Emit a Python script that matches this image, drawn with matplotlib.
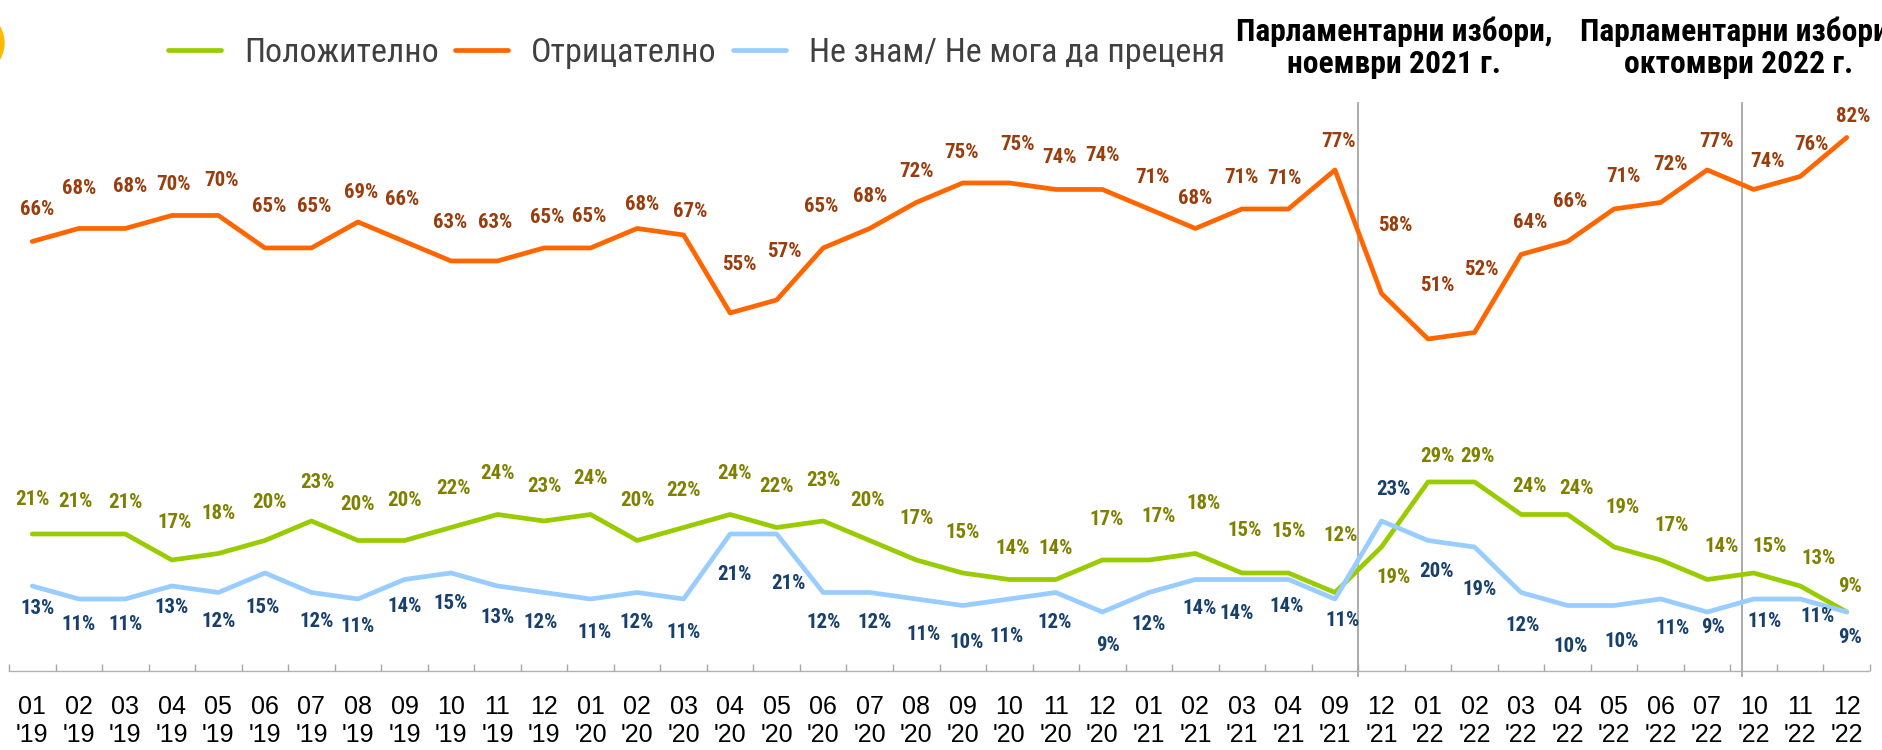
import numpy as np
import matplotlib
matplotlib.use("Agg")
import matplotlib.pyplot as plt
import matplotlib.font_manager as fm
import matplotlib.transforms as mtransforms
from matplotlib.patches import Ellipse
from matplotlib.lines import Line2D

# ---------------- data ----------------
months = ["01", "02", "03", "04", "05", "06", "07", "08", "09", "10", "11", "12",
          "01", "02", "03", "04", "05", "06", "07", "08", "09", "10", "11", "12",
          "01", "02", "03", "04", "09", "12",
          "01", "02", "03", "04", "05", "06", "07", "10", "11", "12"]
years = ["'19"] * 12 + ["'20"] * 12 + ["'21"] * 6 + ["'22"] * 10

positive = [21, 21, 21, 17, 18, 20, 23, 20, 20, 22, 24, 23,
            24, 20, 22, 24, 22, 23, 20, 17, 15, 14, 14, 17,
            17, 18, 15, 15, 12, 19,
            29, 29, 24, 24, 19, 17, 14, 15, 13, 9]
negative = [66, 68, 68, 70, 70, 65, 65, 69, 66, 63, 63, 65,
            65, 68, 67, 55, 57, 65, 68, 72, 75, 75, 74, 74,
            71, 68, 71, 71, 77, 58,
            51, 52, 64, 66, 71, 72, 77, 74, 76, 82]
dontknow = [13, 11, 11, 13, 12, 15, 12, 11, 14, 15, 13, 12,
            11, 12, 11, 21, 21, 12, 12, 11, 10, 11, 12, 9,
            12, 14, 14, 14, 11, 23,
            20, 19, 12, 10, 10, 11, 9, 11, 11, 9]

series_names = ["Положително", "Отрицателно", "Не знам/ Не мога да преценя"]
event_texts = ["Парламентарни избори,\nноември 2021 г.",
               "Парламентарни избори,\nоктомври 2022 г."]
event_lines = [28.5, 36.75]
event_text_x = [29.27, 36.68]

# label offsets (pixels, +dy = down)
neg_dx = [5, 0, 5, 2, 3, 4, 3, 3, -2, -1, -2, 3, -1, 5, 7,
          9, 8, -2, 0, 0, -1, 8, 4, 0, 4, 0,
          0, -4, 4, 14, 9, 7, 9, 3, 9, 10, 9, 14, 11, 6]
neg_dy = [-32, -40, -42, -31, -35, -41, -41, -29, -42, -38, -38, -30, -31, -24, -23,
          -48, -48, -41, -32, -31, -30, -38, -32, -34, -31, -30,
          -31, -30, -28, -68, -53, -63, -32, -40, -32, -38, -28, -28, -32, -21]
pos_dx = [0, -3, 0, 3, 0, 5, 6, 0, 0, 3, 0, 0,
          0, 0, 0, 4, 0, 0, -2, 0, 0, 3, 0, 4,
          10, 8, 3, 0, 6, 12,
          9, 3, 8, 9, 8, 11, 14, 16, 18, 3]
pos_dy = [-34, -32, -31, -37, -40, -38, -38, -36, -40, -39, -41, -34,
          -36, -40, -37, -41, -41, -40, -40, -41, -40, -31, -31, -40,
          -43, -50, -42, -41, -57, 31,
          -25, -25, -28, -26, -39, -34, -33, -26, -27, -25]
dk_dx = [5, 0, 0, 0, 0, -2, 5, 0, 0, 0, 0, -3,
         4, 0, 0, 4, 12, 0, 5, 7, 4, -3, -1, 6,
         0, 4, -5, -2, 8, 12,
         8, 5, 2, 3, 8, 12, 6, 11, 17, 3]
dk_dy = [23, 26, 26, 22, 29, 35, 29, 28, 27, 31, 32, 30,
         34, 30, 34, 41, 50, 30, 30, 36, 37, 38, 30, 34,
         32, 29, 34, 27, 22, -31,
         31, 43, 33, 41, 36, 30, 16, 23, 18, 26]

# ---------------- fonts ----------------
_avail = {f.name for f in fm.fontManager.ttflist}


def pick(cands, default):
    for c in cands:
        if c in _avail:
            return c
    return default


COND = pick(["Roboto Condensed", "Liberation Sans Narrow", "Archivo Narrow", "Asap Condensed"], "Roboto")
TICKF = pick(["Liberation Sans", "Arial"], "DejaVu Sans")

# ---------------- figure ----------------
W, H = 1882, 750
fig = plt.figure(figsize=(W / 100, H / 100), dpi=100)
ax = fig.add_axes([9 / W, (H - 670.5) / H, 1861 / W, 567.5 / H])

x = np.arange(len(months))
c_pos, c_neg, c_dk = "#99CC00", "#FF6600", "#99CCFF"
t_pos, t_neg, t_dk = "#808000", "#993D0D", "#17406D"
lw = 3.4
ax.plot(x, positive, color=c_pos, lw=lw, solid_joinstyle="round", solid_capstyle="round", zorder=3)
ax.plot(x, negative, color=c_neg, lw=lw, solid_joinstyle="round", solid_capstyle="round", zorder=3)
ax.plot(x, dontknow, color=c_dk, lw=lw, solid_joinstyle="round", solid_capstyle="round", zorder=3)

k = 0.72
for vals, dxs, dys, col in [(positive, pos_dx, pos_dy, t_pos),
                            (negative, neg_dx, neg_dy, t_neg),
                            (dontknow, dk_dx, dk_dy, t_dk)]:
    for i, v in enumerate(vals):
        ax.annotate(f"{v}%", (i, v), xytext=(dxs[i] * k, -dys[i] * k), textcoords="offset points",
                    ha="center", va="center", fontsize=15, fontweight="bold", color=col,
                    family=COND, zorder=4)

ax.set_xlim(-0.5, len(months) - 0.5)
ax.set_ylim(0, 87.3)
for s in ["top", "left", "right"]:
    ax.spines[s].set_visible(False)
ax.spines["bottom"].set_color("#B0B0B0")
ax.spines["bottom"].set_linestyle((0, (1, 1)))
ax.spines["bottom"].set_linewidth(1.0)
ax.set_yticks([])
ax.set_xticks(x)
ax.set_xticklabels([f"{m}\n{y}" for m, y in zip(months, years)], family=TICKF, fontsize=18)
ax.set_xticks(np.arange(len(months) + 1) - 0.5, minor=True)
ax.tick_params(axis="x", which="major", length=0, pad=17.5, colors="black")
ax.tick_params(axis="x", which="minor", length=5, direction="in", color="#A6A6A6", width=1)

for ex in event_lines:
    ax.plot([ex, ex], [-0.8, 87.3], color="#A6A6A6", lw=1.3, clip_on=False, zorder=2)

tr = mtransforms.blended_transform_factory(ax.transData, fig.transFigure)
ev_artists = []
for tx, txt in zip(event_text_x, event_texts):
    ev_artists.append(ax.text(tx, 1 - 48 / H, txt, transform=tr, ha="center", va="center",
                              multialignment="center", linespacing=1.1,
                              fontsize=21, fontweight="bold", family=COND, color="black", clip_on=False))

handles = [Line2D([], [], color=c, lw=lw, solid_capstyle="round") for c in (c_pos, c_neg, c_dk)]
leg = fig.legend(handles, series_names, loc="center left", bbox_to_anchor=(168 / W, 1 - 53 / H),
                 ncol=3, frameon=False, handlelength=1.56, handletextpad=0.68,
                 columnspacing=0.47, borderpad=0, borderaxespad=0, prop={"family": COND, "size": 24.5})
for t in leg.get_texts():
    t.set_color("#404040")

fig.add_artist(Ellipse((-28 / W, 1 - 43 / H), 64 / W, 64 / H, transform=fig.transFigure,
                       color="#FFB900", clip_on=False))

# fit the election captions to the reference width (first line ~316 px)
fig.canvas.draw()
rend = fig.canvas.get_renderer()
for t in ev_artists:
    w = t.get_window_extent(rend).width
    if w > 0:
        t.set_fontsize(t.get_fontsize() * 316.0 / w)

fig.savefig("out.png", dpi=100)
